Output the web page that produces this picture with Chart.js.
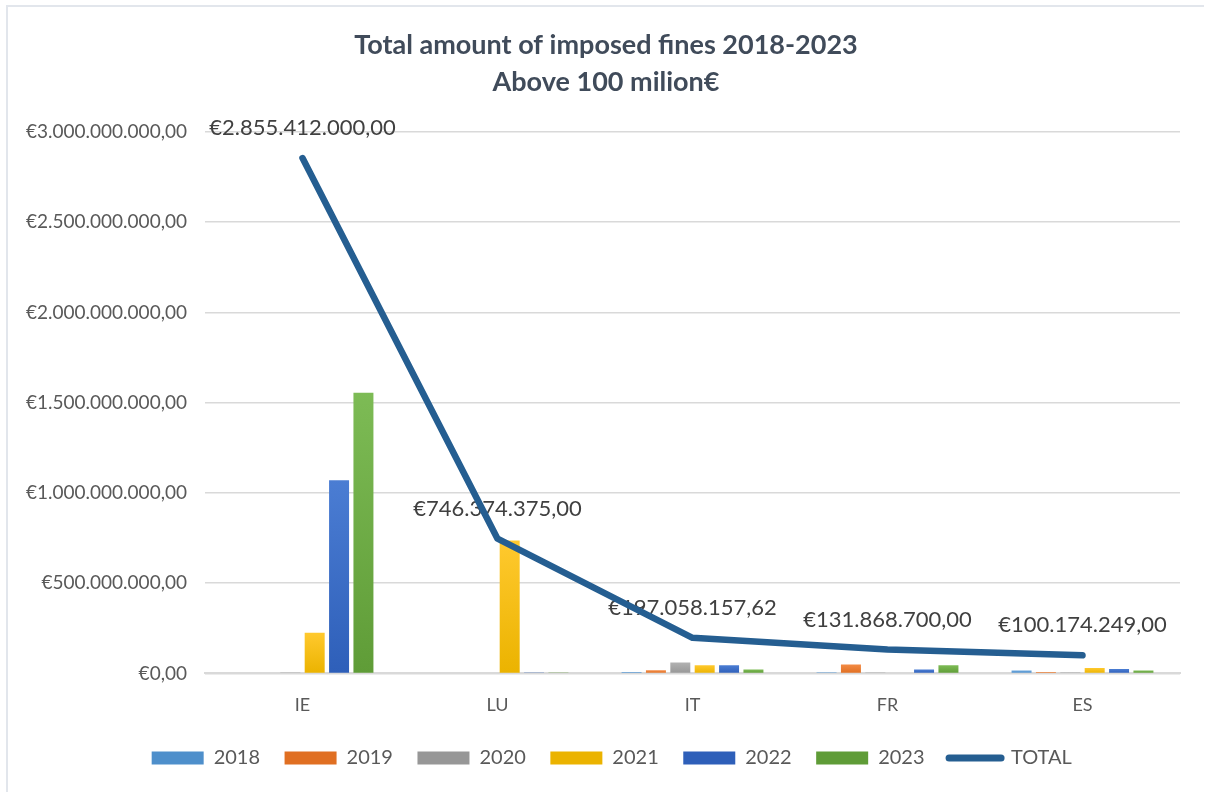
<!DOCTYPE html>
<html>
<head>
<meta charset="utf-8">
<title>Total amount of imposed fines 2018-2023</title>
<script src="https://cdn.jsdelivr.net/npm/chart.js@4.4.1/dist/chart.umd.min.js"></script>
<style>
  html, body { margin: 0; padding: 0; background: #ffffff; }
  #wrap { position: relative; width: 1205px; height: 792px; }
</style>
</head>
<body>
<div id="wrap"><canvas id="myChart"></canvas></div>
<script>
// Countries and yearly fine amounts (EUR)
const countries = ["IE", "LU", "IT", "FR", "ES"];
const years = ["2018", "2019", "2020", "2021", "2022", "2023"];

const fines2018 = [0, 0, 8000000, 6000000, 16000000];
const fines2019 = [0, 0, 17000000, 50000000, 8000000];
const fines2020 = [5000000, 0, 60000000, 5000000, 6000000];
const fines2021 = [225000000, 736000000, 45000000, 4000000, 30000000];
const fines2022 = [1070000000, 5000000, 45000000, 22000000, 24000000];
const fines2023 = [1555412000, 5374375, 22058157.62, 44868700, 16174249];
const totals = [2855412000, 746374375, 197058157.62, 131868700, 100174249];

const yTicks = [0, 500000000, 1000000000, 1500000000, 2000000000, 2500000000, 3000000000];

// bar colours: light top, darker bottom
const barColors = [
  ["#6AA6DD", "#4E8FCB"],
  ["#F38B45", "#E06F22"],
  ["#B1B1B1", "#979797"],
  ["#FFC92E", "#EBB300"],
  ["#4B7DD3", "#2E5FB9"],
  ["#7DBB55", "#5F9C37"],
];
const lineColor = "#255E91";

// euro formatting like 1.234.567,89
function euro(v) {
  let parts = v.toFixed(2).split(".");
  let intPart = parts[0].replace(/\B(?=(\d{3})+(?!\d))/g, ".");
  return "€" + intPart + "," + parts[1];
}

function barGradient(i) {
  return function (context) {
    const chart = context.chart;
    const y = chart.scales && chart.scales.y;
    if (!y || context.raw === undefined) return barColors[i][1];
    const top = y.getPixelForValue(context.raw);
    const bottom = y.getPixelForValue(0);
    if (!isFinite(top) || bottom - top < 1) return barColors[i][1];
    const g = chart.ctx.createLinearGradient(0, top, 0, bottom);
    g.addColorStop(0, barColors[i][0]);
    g.addColorStop(1, barColors[i][1]);
    return g;
  };
}

const yearData = [fines2018, fines2019, fines2020, fines2021, fines2022, fines2023];

let datasets = [];
for (let i = 0; i < years.length; i++) {
  datasets.push({
    label: years[i],
    type: "bar",
    data: yearData[i],
    backgroundColor: barGradient(i),
    borderWidth: 0,
    categoryPercentage: 0.75,
    barPercentage: 0.82,
    order: 2,
  });
}
datasets.push({
  label: "TOTAL",
  type: "line",
  data: totals,
  borderColor: lineColor,
  backgroundColor: lineColor,
  borderWidth: 6.5,
  borderCapStyle: "round",
  borderJoinStyle: "round",
  pointRadius: 0,
  tension: 0,
  order: 1,
});

// value labels above the TOTAL line, drawn under the line itself
const totalLabels = {
  id: "totalLabels",
  beforeDatasetsDraw(chart) {
    const idx = chart.data.datasets.length - 1;
    const meta = chart.getDatasetMeta(idx);
    const ctx = chart.ctx;
    ctx.save();
    ctx.font = "22px Lato";
    ctx.fillStyle = "#404040";
    ctx.textAlign = "center";
    ctx.textBaseline = "middle";
    meta.data.forEach((pt, i) => {
      ctx.fillText(euro(totals[i]), pt.x, pt.y - 30);
    });
    ctx.restore();
  },
};

// thin frame along the top and left edges
const frame = {
  id: "frame",
  beforeDraw(chart) {
    const ctx = chart.ctx;
    ctx.save();
    ctx.strokeStyle = "#E2E6EC";
    ctx.lineWidth = 2;
    ctx.beginPath();
    ctx.moveTo(7, chart.height);
    ctx.lineTo(7, 6);
    ctx.lineTo(chart.width - 1, 6);
    ctx.stroke();
    ctx.restore();
  },
};

// centre title and legend a bit further right, over the plot
const nudge = {
  id: "nudge",
  afterLayout(chart) {
    if (chart.titleBlock) chart.titleBlock.left += 10;
    if (chart.legend) chart.legend.left += 34;
  },
};

const ctx = document.getElementById("myChart");

new Chart(ctx, {
  data: { labels: countries, datasets: datasets },
  plugins: [frame, totalLabels, nudge],
  options: {
    responsive: true,
    maintainAspectRatio: false,
    animation: false,
    layout: { padding: { left: 22, right: 25, top: 0, bottom: 14 } },
    plugins: {
      title: {
        display: true,
        text: ["Total amount of imposed fines 2018-2023", "Above 100 milion€"],
        color: "#404B5A",
        font: { family: "Lato", size: 27, weight: "bold", lineHeight: 1.37 },
        padding: { top: 27, bottom: 31 },
      },
      legend: {
        position: "bottom",
        labels: {
          color: "#595959",
          font: { family: "Lato", size: 20 },
          usePointStyle: true,
          pointStyleWidth: 52,
          boxHeight: 13,
          padding: 12,
          generateLabels(chart) {
            return chart.data.datasets.map((ds, i) => {
              const isLine = ds.type === "line";
              return {
                // trailing spaces widen the gap between items
                text: ds.label + "\u2002\u2009",
                datasetIndex: i,
                fillStyle: isLine ? lineColor : barColors[i][1],
                strokeStyle: isLine ? lineColor : barColors[i][1],
                lineWidth: isLine ? 7 : 0,
                lineCap: "round",
                pointStyle: isLine ? "line" : "rect",
                fontColor: "#595959",
                hidden: false,
              };
            });
          },
        },
      },
      tooltip: { enabled: false },
    },
    scales: {
      x: {
        grid: { display: false, drawTicks: false },
        border: { color: "#D9D9D9", width: 2 },
        ticks: { color: "#595959", font: { family: "Lato", size: 18 }, padding: 20.5 },
      },
      y: {
        min: 0,
        max: 3000000000,
        afterBuildTicks(scale) {
          scale.ticks = yTicks.map((v) => ({ value: v }));
        },
        afterFit(scale) {
          scale.width = 183;
        },
        grid: { color: "#D9D9D9", lineWidth: 1.5, drawTicks: false },
        border: { display: false },
        ticks: {
          color: "#595959",
          font: { family: "Lato", size: 19 },
          padding: 18,
          callback: (v) => euro(v),
        },
      },
    },
  },
});
</script>
</body>
</html>
